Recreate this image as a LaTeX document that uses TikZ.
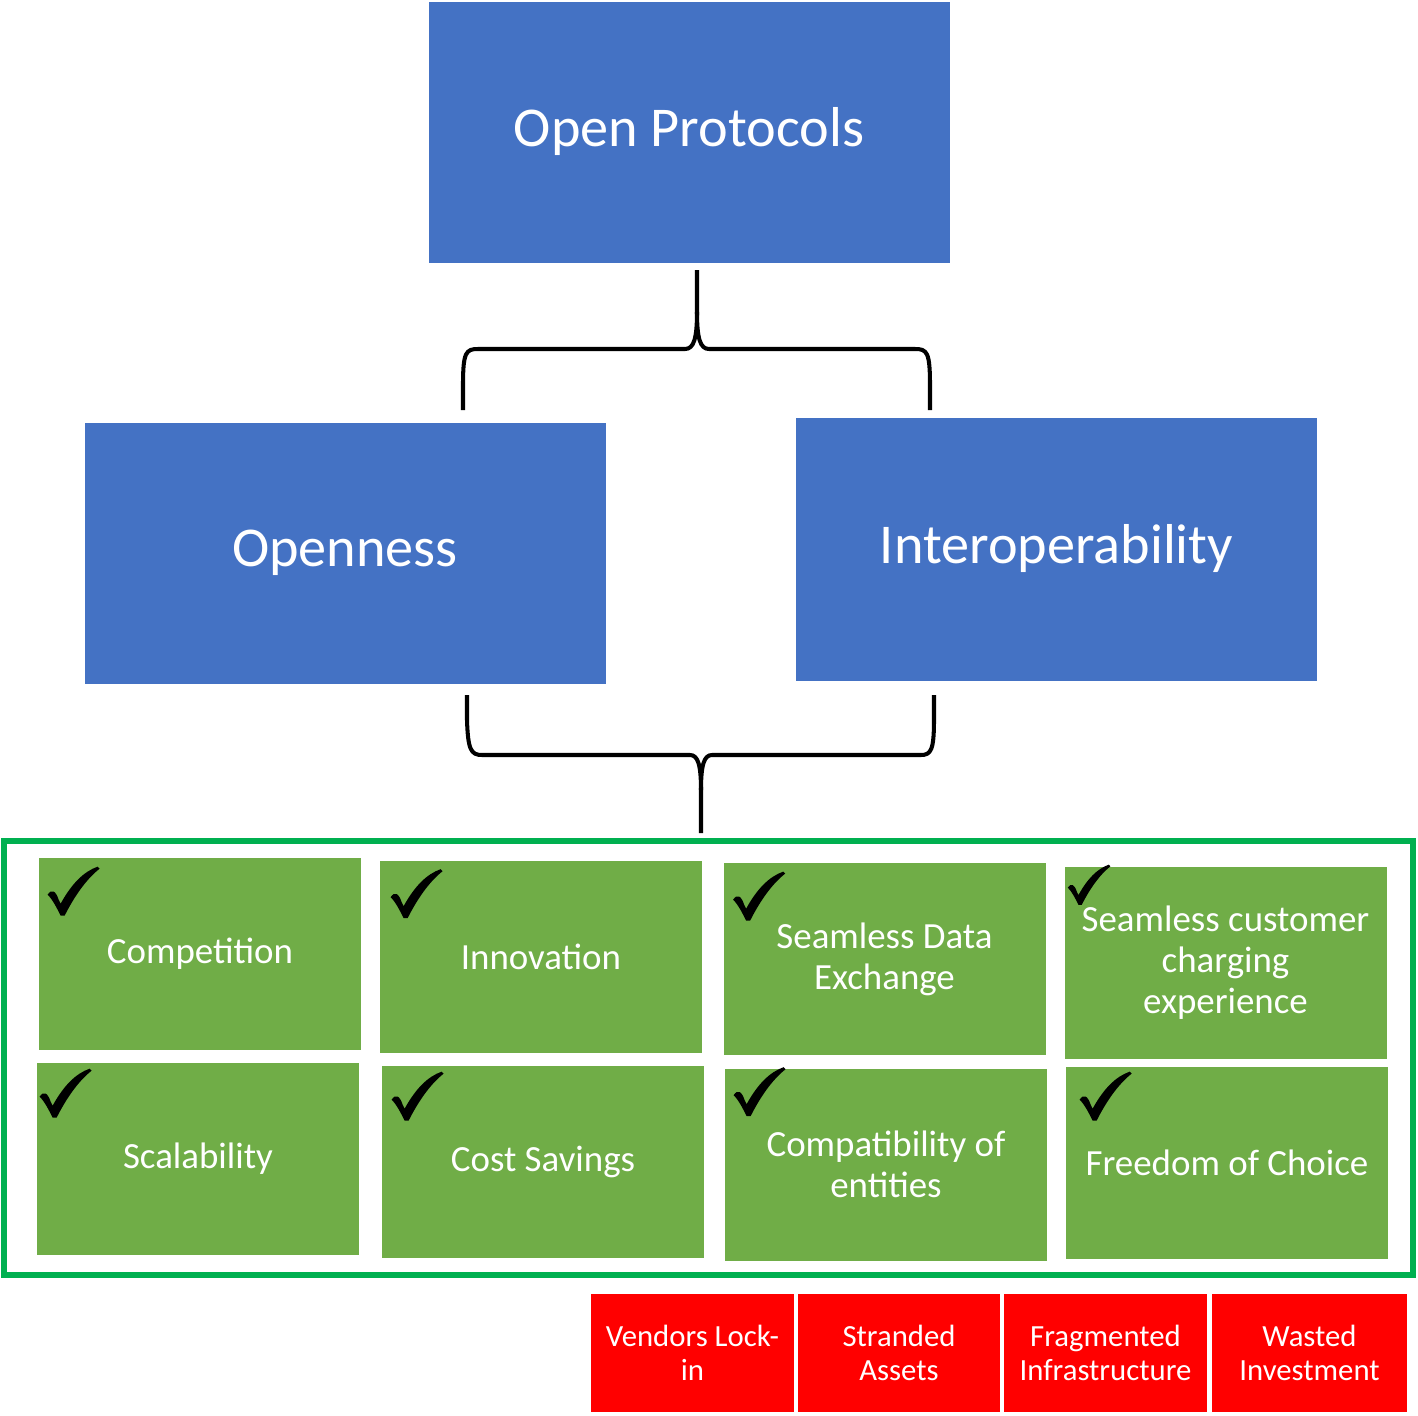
\documentclass[tikz,border=0pt]{standalone}
\usepackage{fontspec}
\setmainfont{Carlito}
\usetikzlibrary{calc}

\definecolor{opblue}{HTML}{4472C4}
\definecolor{okgreen}{HTML}{70AD47}
\definecolor{framegreen}{HTML}{00B050}
\definecolor{badred}{HTML}{FF0000}

\tikzset{
  bluebox/.style={fill=opblue, draw=opblue, text=white, minimum width={520*0.02cm},
    minimum height={260*0.02cm}, font=\fontsize{32}{38}\selectfont},
  greenbox/.style={fill=okgreen, text=white, minimum width={322*0.02cm},
    minimum height={192*0.02cm}, align=center, font=\fontsize{21}{23.3}\selectfont},
  redbox/.style={fill=badred, draw=white, line width=1.2pt, text=white,
    minimum height={120*0.02cm}, align=center, font=\fontsize{17.5}{19.3}\selectfont},
  brace/.style={line width=2.3pt, line join=round},
  checkmark/.pic={
    \fill[black] (-26,3) .. controls (-22,-3) and (-18,-1) .. (-15,8) -- (-13,12)
      .. controls (-2,-8) and (10,-20) .. (24,-25) -- (26,-23)
      .. controls (12,-12) and (0,6) .. (-9,24) -- (-13,24)
      .. controls (-17,16) and (-21,8) .. (-26,3) -- cycle;
  }
}

\begin{document}
\begin{tikzpicture}[x=0.02cm, y=-0.02cm]
    \useasboundingbox (0,0) rectangle (1418,1416);
    % top level
    \node[bluebox] (op) at (689,132) {Open Protocols};
    \node[bluebox] (open) at (345,553) {Openness};
    \node[bluebox, minimum height={262*0.02cm}] (interop) at (1056.5,549) {Interoperability};
    % brace under open protocols
    \coordinate (ttip) at (697,270);
    \coordinate (tleft) at (463,410);
    \coordinate (tright) at (930,410);
    \draw[brace] (tleft) -- (463,385) .. controls (463,352) and (466,349) .. (478,349)
        -- (685,349) .. controls (694,349) and (697,338) .. (697,312) -- (ttip);
    \draw[brace] (697,312) .. controls (697,338) and (700,349) .. (709,349)
        -- (915,349) .. controls (927,349) and (930,352) .. (930,385) -- (tright);
    % brace over the benefits
    \coordinate (bleft) at (467,695);
    \coordinate (bright) at (934,695);
    \coordinate (btip) at (701,833);
    \draw[brace] (bleft) -- (467,720) .. controls (468,750) and (471,755) .. (482,755)
        -- (690,755) .. controls (698,755) and (701,765) .. (701,790) -- (btip);
    \draw[brace] (701,790) .. controls (701,765) and (704,755) .. (712,755)
        -- (921,755) .. controls (931,755) and (934,750) .. (934,720) -- (bright);
    % benefits
    \draw[framegreen, line width=3.2pt] (4,841) rectangle (1413,1275);
    \node[greenbox] (comp) at (200,954) {Competition};
    \node[greenbox] (innov) at (541,956.5) {Innovation};
    \node[greenbox] (sde) at (884.5,959) {Seamless Data\\Exchange};
    \node[greenbox] (scc) at (1225.5,962.5) {Seamless customer\\charging\\experience};
    \node[greenbox] (scal) at (198,1159) {Scalability};
    \node[greenbox] (cost) at (543,1162) {Cost Savings};
    \node[greenbox] (compat) at (886,1164.5) {Compatibility of\\entities};
    \node[greenbox] (free) at (1227,1163) {Freedom of Choice};
    % ticks
    \pic (tk1) at ($(comp.north west)+(35,34)$) {checkmark};
    \pic (tk2) at ($(innov.north west)+(37,34)$) {checkmark};
    \pic (tk3) at ($(sde.north west)+(36,34)$) {checkmark};
    \pic[scale=0.82] (tk4) at ($(scc.north west)+(25,19)$) {checkmark};
    \pic (tk5) at ($(scal.north west)+(29,31)$) {checkmark};
    \pic (tk6) at ($(cost.north west)+(36,31)$) {checkmark};
    \pic (tk7) at ($(compat.north west)+(35,24)$) {checkmark};
    \pic (tk8) at ($(free.north west)+(40,30)$) {checkmark};
    % drawbacks
    \node[redbox, minimum width={205*0.02cm}] (lock) at (692.5,1353) {Vendors Lock-\\in};
    \node[redbox, minimum width={204*0.02cm}] (strand) at (899,1353) {Stranded\\Assets};
    \node[redbox, minimum width={205*0.02cm}] (frag) at (1105.5,1353) {Fragmented\\Infrastructure};
    \node[redbox, minimum width={197*0.02cm}] (waste) at (1309.5,1353) {Wasted\\Investment};
\end{tikzpicture}
\end{document}
